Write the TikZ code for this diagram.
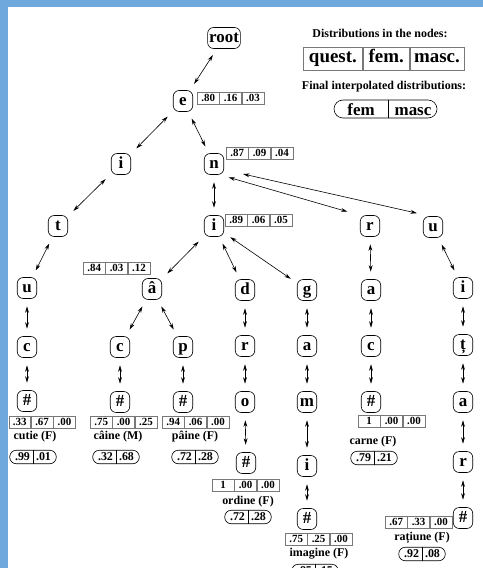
\documentclass[tikz,border=0pt]{standalone}
\usepackage{fontspec}
\setmainfont{Liberation Serif}
\usetikzlibrary{arrows.meta,calc}
\definecolor{frameblue}{RGB}{111,168,220}
\definecolor{cellgray}{RGB}{120,120,120}

% three-cell distribution row: name, left-centre point, values
\newcommand\distrow[5]{%
  \node[cell,anchor=west] (#1a) at (#2) {#3};
  \node[cell,anchor=west] (#1b) at (#1a.east) {#4};
  \node[cell,anchor=west] (#1c) at (#1b.east) {#5};
}
% two-part interpolated distribution pill
\newcommand\finalpill[4]{%
  \node[pill] (#1) at (#2) {\makebox[19.5bp]{#3}\hspace{1.5bp}\makebox[19.5bp]{#4}};
  \draw[pilldiv] (#1.north) -- (#1.south);
}

\tikzset{
  letter/.style={draw, rounded corners=6bp, line width=0.6bp, minimum width=19.5bp,
    minimum height=21bp, inner xsep=1.5bp, inner ysep=3bp, text height=11.5bp, text depth=3bp,
    font=\fontsize{17}{19}\selectfont\bfseries},
  cell/.style={draw=cellgray, line width=0.7bp, minimum width=21.7bp, minimum height=12bp,
    inner sep=0pt, text height=7.6bp, text depth=0pt, font=\fontsize{11}{12}\selectfont\bfseries},
  pill/.style={draw, rounded corners=6.5bp, line width=0.6bp, minimum height=13.5bp,
    inner xsep=3bp, inner ysep=0pt, font=\fontsize{12}{13}\selectfont\bfseries},
  pilldiv/.style={line width=0.6bp},
  lbl/.style={inner sep=0pt, font=\fontsize{12}{13}\selectfont\bfseries},
  link/.style={<->, >={Stealth[length=6.5bp,width=3.8bp]}, line width=0.6bp,
    shorten <=7.5bp, shorten >=7.5bp},
  bigcell/.style={draw=cellgray, line width=0.8bp, minimum height=23bp, inner sep=0pt,
    text height=13bp, text depth=4bp, font=\fontsize{19}{21}\selectfont\bfseries},
  legword/.style={inner sep=0pt, text height=11.5bp, text depth=0pt,
    font=\fontsize{17}{19}\selectfont\bfseries},
}

\begin{document}
\begin{tikzpicture}[x=1bp, y=-1bp]
\useasboundingbox (0,0) rectangle (483,568);
\fill[white] (0,0) rectangle (483,568);
\fill[frameblue] (0,0) rectangle (483,7.5);
\fill[frameblue] (0,0) rectangle (8,568);

% legend
\node[lbl] (legtitle) at (380,33) {Distributions in the nodes:};
\node[bigcell, minimum width=59bp, anchor=west] (legq) at (303,58.5) {quest.};
\node[bigcell, minimum width=46bp, anchor=west] (legf) at (legq.east) {fem.};
\node[bigcell, minimum width=54bp, anchor=west] (legm) at (legf.east) {masc.};
\node[lbl] (legtitlefin) at (384,87) {Final interpolated distributions:};
\node[draw, rounded corners=9bp, line width=0.6bp, minimum width=103bp, minimum height=18bp,
  inner sep=0pt] (legpill) at (385.5,109) {};
\node[legword] (legfem) at (361,110) {fem};
\node[legword] (legmasc) at (413,110) {masc};
\coordinate (divtop) at (388,100);
\coordinate (divbot) at (388,118);
\draw[pilldiv] (divtop) -- (divbot);

% tree nodes
\node[letter] (root) at (224,38) {root};
\node[letter] (e) at (183,101) {e};
\node[letter] (i1) at (121,164) {i};
\node[letter] (n) at (214,164) {n};
\node[letter] (t) at (58,226) {t};
\node[letter] (i2) at (214,226) {i};
\node[letter] (r1) at (370,226) {r};
\node[letter] (u1) at (433,227) {u};
\node[letter] (u2) at (27,288) {u};
\node[letter] (acirc) at (152,289) {â};
\node[letter] (d) at (245,290) {d};
\node[letter] (g) at (307,290) {g};
\node[letter] (a1) at (371,290) {a};
\node[letter] (i3) at (463,288) {i};
\node[letter] (c1) at (27,347) {c};
\node[letter] (c2) at (120,347) {c};
\node[letter] (p) at (183,347) {p};
\node[letter] (r2) at (245,346) {r};
\node[letter] (a2) at (307,346) {a};
\node[letter] (c3) at (371,346) {c};
\node[letter] (tc) at (463,345) {ț};
\node[letter] (h1) at (27,401) {\#};
\node[letter] (h2) at (120,402) {\#};
\node[letter] (h3) at (183,402) {\#};
\node[letter] (o) at (245,402) {o};
\node[letter] (m) at (307,402) {m};
\node[letter] (h4) at (371,402) {\#};
\node[letter] (a3) at (463,402) {a};
\node[letter] (h5) at (246,463) {\#};
\node[letter] (i4) at (307,466) {i};
\node[letter] (r3) at (463,462) {r};
\node[letter] (h6) at (307,519) {\#};
\node[letter] (h7) at (463,518) {\#};

% node distributions
\distrow{de}{197,98}{.80}{.16}{.03}
\distrow{dn}{226,153}{.87}{.09}{.04}
\distrow{di}{225,220}{.89}{.06}{.05}
\distrow{da}{83,268}{.84}{.03}{.12}
\distrow{dcutie}{8.5,422}{.33}{.67}{.00}
\distrow{dcaine}{90,422}{.75}{.00}{.25}
\distrow{dpaine}{162,422}{.94}{.06}{.00}
\distrow{dcarne}{358,421}{1}{.00}{.00}
\distrow{dordine}{212,485}{1}{.00}{.00}
\distrow{dimagine}{285,539}{.75}{.25}{.00}
\distrow{dratiune}{385,522}{.67}{.33}{.00}

% words and their interpolated distributions
\node[lbl] (wcutie) at (35,437) {cutie (F)};
\finalpill{fcutie}{33,457}{.99}{.01}
\node[lbl] (wcaine) at (118,437) {câine (M)};
\finalpill{fcaine}{116,457}{.32}{.68}
\node[lbl] (wpaine) at (195,437) {pâine (F)};
\finalpill{fpaine}{195,457}{.72}{.28}
\node[lbl] (wcarne) at (373,442) {carne (F)};
\finalpill{fcarne}{374,458}{.79}{.21}
\node[lbl] (wordine) at (248,502) {ordine (F)};
\finalpill{fordine}{248,517}{.72}{.28}
\node[lbl] (wimagine) at (319,554) {imagine (F)};
\finalpill{fimagine}{315,571}{.85}{.15}
\node[lbl] (wratiune) at (422,538) {rațiune (F)};
\finalpill{fratiune}{422,554}{.92}{.08}

% connectors
\draw[link] (root) -- (e);
\draw[link] (e) -- (i1);
\draw[link] (e) -- (n);
\draw[link] (i1) -- (t);
\draw[link] (t) -- (u2);
\draw[link] (u2) -- (c1);
\draw[link] (c1) -- (h1);
\draw[link] (n) -- (i2);
\draw[link, shorten <=0pt, shorten >=0pt] ($(n.south east)+(4.5,2.5)$) -- ($(r1.north west)+(-12.5,-3.5)$);
\draw[link, shorten <=0pt, shorten >=0pt] ($(n.east)+(19,10)$) -- ($(u1.north west)+(-6,-3)$);
\draw[link] (i2) -- (acirc);
\draw[link] (i2) -- (d);
\draw[link] (i2) -- (g);
\draw[link] (acirc) -- (c2);
\draw[link] (acirc) -- (p);
\draw[link] (c2) -- (h2);
\draw[link] (p) -- (h3);
\draw[link] (d) -- (r2);
\draw[link] (r2) -- (o);
\draw[link] (o) -- (h5);
\draw[link] (g) -- (a2);
\draw[link] (a2) -- (m);
\draw[link] (m) -- (i4);
\draw[link] (i4) -- (h6);
\draw[link] (r1) -- (a1);
\draw[link] (a1) -- (c3);
\draw[link] (c3) -- (h4);
\draw[link] (u1) -- (i3);
\draw[link] (i3) -- (tc);
\draw[link] (tc) -- (a3);
\draw[link] (a3) -- (r3);
\draw[link] (r3) -- (h7);
\end{tikzpicture}
\end{document}
